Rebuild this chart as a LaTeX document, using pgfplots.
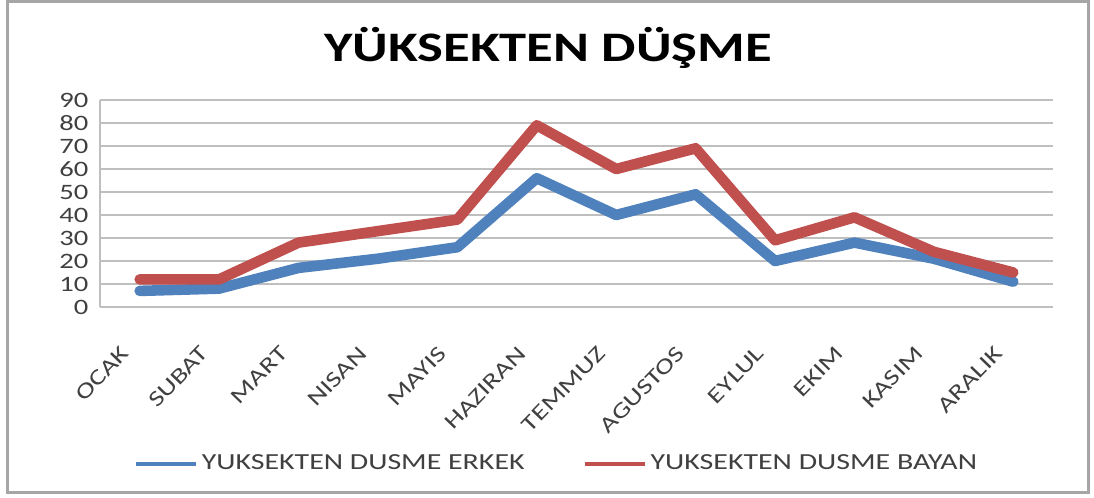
\documentclass[border=0pt]{standalone}
\usepackage{pgfplots}
\pgfplotsset{compat=1.18}
\usepackage{fontspec}
\setmainfont{Carlito}[FakeStretch=1.3]
\definecolor{erkek}{HTML}{4F81BD}
\definecolor{bayan}{HTML}{C0504D}
\definecolor{gridgray}{HTML}{BFBFBF}
\definecolor{framegray}{HTML}{A6A6A6}
\definecolor{textgray}{HTML}{404040}

\begin{document}
\begin{tikzpicture}
% page extent and chart frame (1px = 0.5pt, plot area lower left at origin)
\path (-50pt,-95.5pt) rectangle (497pt,153.5pt);
\draw[framegray, line width=1.5pt] (-46pt,-92.5pt) rectangle (494pt,152.5pt);
\node[font=\fontsize{21}{24}\selectfont\bfseries] at (224pt,129.5pt) {YÜKSEKTEN DÜŞME};

\begin{axis}[
    at={(0pt,0pt)}, anchor=south west,
    scale only axis,
    width=476.5pt, height=103.5pt,
    xmin=-0.5, xmax=11.5,
    ymin=0, ymax=90,
    ytick={0,10,...,90},
    xtick={0,...,11},
    xticklabels={OCAK,SUBAT,MART,NISAN,MAYIS,HAZIRAN,TEMMUZ,AGUSTOS,EYLUL,EKIM,KASIM,ARALIK},
    axis lines*=left,
    axis line style={gridgray, line width=0.8pt},
    ymajorgrids,
    major grid style={gridgray, line width=0.8pt},
    major tick length=0pt,
    clip=false,
    /pgf/number format/assume math mode=true,
    tick label style={font=\fontsize{11}{13}\selectfont, text=textgray},
    yticklabel style={xshift=-2.3pt},
    xticklabel style={xshift=-5pt, yshift=-19pt, rotate=46, anchor=east},
    legend columns=2,
    legend style={at={(0.48,-0.758)}, anchor=center, draw=none,
        font=\fontsize{11.5}{13}\selectfont, text=textgray,
        /tikz/every even column/.append style={column sep=27pt}},
    legend image code/.code={\draw[#1, line width=2pt, line cap=butt] (0pt,0pt) -- (30pt,0pt);},
    every axis plot/.append style={line width=5.3pt, line join=round, line cap=round},
]
\addplot[erkek] coordinates {
    (0,7) (1,8) (2,17) (3,21) (4,26) (5,56)
    (6,40) (7,49) (8,20) (9,28) (10,21) (11,11)};
\addlegendentry{YUKSEKTEN DUSME ERKEK}
\addplot[bayan] coordinates {
    (0,12) (1,12) (2,28) (3,33) (4,38) (5,79)
    (6,60) (7,69) (8,29) (9,39) (10,24) (11,15)};
\addlegendentry{YUKSEKTEN DUSME BAYAN}
\end{axis}
\end{tikzpicture}
\end{document}
